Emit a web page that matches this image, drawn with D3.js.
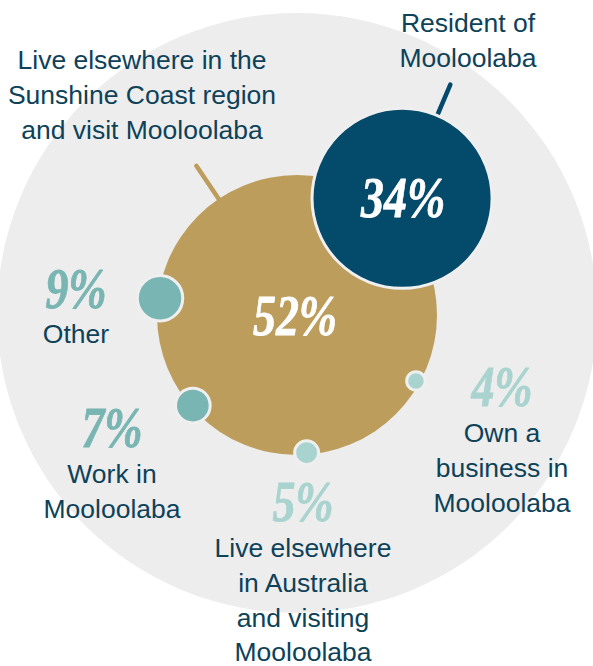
<!DOCTYPE html>
<html>
<head>
<meta charset="utf-8">
<script src="https://cdn.jsdelivr.net/npm/d3@7/dist/d3.min.js"></script>
<style>
  html, body { margin: 0; padding: 0; background: #ffffff; }
  svg { display: block; }
</style>
</head>
<body>
<div id="chart"></div>
<script>
// Who visits Mooloolaba: share of respondents per group
const categories = [
  "Live elsewhere in the Sunshine Coast region and visit Mooloolaba",
  "Resident of Mooloolaba",
  "Other",
  "Work in Mooloolaba",
  "Live elsewhere in Australia and visiting Mooloolaba",
  "Own a business in Mooloolaba"
];
const values = [52, 34, 9, 7, 5, 4];
const percentLabels = ["52%", "34%", "9%", "7%", "5%", "4%"];
const labelLines = [
  ["Live elsewhere in the", "Sunshine Coast region", "and visit Mooloolaba"],
  ["Resident of", "Mooloolaba"],
  ["Other"],
  ["Work in", "Mooloolaba"],
  ["Live elsewhere", "in Australia", "and visiting", "Mooloolaba"],
  ["Own a", "business in", "Mooloolaba"]
];

// Layout: clock angle (deg from 12 o'clock) of each bubble around the main bubble
const bubbleAngle = [null, 42, 277, 229, 176, 119];
const bubbleDist  = [0, 157, 138, 138, 138, 136];
// Label anchor positions (centre x, baseline of percentage, baseline of first text line)
const labelPos = [
  { x: 142, pct: null, text: 69 },
  { x: 468, pct: null, text: 32 },
  { x: 76,  pct: 308, text: 343 },
  { x: 112, pct: 447, text: 483 },
  { x: 303, pct: 521, text: 557 },
  { x: 502, pct: 406, text: 442 }
];
const fills = ["#bc9d5b", "#044a6b", "#79b5b2", "#79b5b2", "#a9d3cf", "#a9d3cf"];

const W = 593, H = 666;
const cx = 297, cy = 315;
const textColor = "#0d4258";

const svg = d3.select("#chart").append("svg")
  .attr("width", W).attr("height", H);

const r = d3.scaleLinear().domain([0, 52]).range([0, 140]);

// backdrop disc
svg.append("circle")
  .attr("cx", cx).attr("cy", cy - 2).attr("r", 300)
  .attr("fill", "#ededed");

function polar(angleDeg, dist) {
  const a = angleDeg * Math.PI / 180;
  return [cx + dist * Math.sin(a), cy - dist * Math.cos(a)];
}

const nodes = values.map((v, i) => {
  const p = i === 0 ? [cx, cy] : polar(bubbleAngle[i], bubbleDist[i]);
  return { v, i, x: p[0], y: p[1], r: r(v) };
});

// leader lines
function leader(node, angleDeg, len, color) {
  const a = angleDeg * Math.PI / 180;
  const x1 = node.x + (node.r - 4) * Math.sin(a), y1 = node.y - (node.r - 4) * Math.cos(a);
  const x2 = node.x + (node.r + len) * Math.sin(a), y2 = node.y - (node.r + len) * Math.cos(a);
  svg.append("line")
    .attr("x1", x1).attr("y1", y1).attr("x2", x2).attr("y2", y2)
    .attr("stroke", color).attr("stroke-width", 4.5).attr("stroke-linecap", "round");
}
leader(nodes[0], 326, 40, fills[0]);
leader(nodes[1], 23, 32, fills[1]);

// bubbles
svg.selectAll("circle.bubble")
  .data(nodes)
  .join("circle")
  .attr("class", "bubble")
  .attr("cx", d => d.x).attr("cy", d => d.y)
  .attr("r", d => d.i === 0 ? d.r : d.r - 1.5)
  .attr("fill", d => fills[d.i])
  .attr("stroke", d => d.i === 0 ? "none" : "#efefef")
  .attr("stroke-width", 3);

// percentage figures
const pctFont = "'Liberation Serif', 'Times New Roman', serif";
function pctText(x, y, str, color) {
  svg.append("text")
    .attr("transform", `translate(${x},${y}) scale(0.82,1)`)
    .attr("text-anchor", "middle")
    .style("font-family", pctFont)
    .style("font-weight", "bold")
    .style("font-style", "italic")
    .style("font-size", "56px")
    .attr("fill", color)
    .attr("stroke", color)
    .attr("stroke-width", 0.8)
    .attr("stroke-linejoin", "round")
    .text(str);
}
pctText(nodes[0].x - 2, nodes[0].y + 20, percentLabels[0], "#ffffff");
pctText(nodes[1].x + 1, nodes[1].y + 19, percentLabels[1], "#ffffff");
for (let i = 2; i < values.length; i++) {
  pctText(labelPos[i].x, labelPos[i].pct, percentLabels[i], fills[i]);
}

// category labels
labelLines.forEach((lines, i) => {
  const t = svg.append("text")
    .attr("text-anchor", "middle")
    .style("font-family", "'Liberation Sans', Arial, sans-serif")
    .style("font-size", "26.5px")
    .attr("fill", textColor);
  lines.forEach((ln, j) => {
    t.append("tspan")
      .attr("x", labelPos[i].x)
      .attr("y", labelPos[i].text + j * 34.8)
      .text(ln);
  });
});
</script>
</body>
</html>
